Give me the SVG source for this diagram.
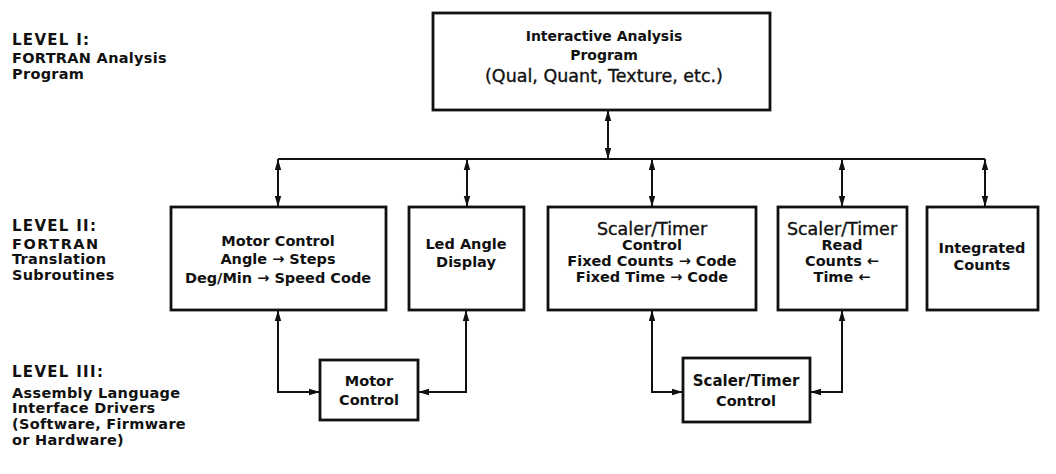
<svg xmlns="http://www.w3.org/2000/svg" width="1056" height="474" viewBox="0 0 1056 474">
<defs>
<marker id="ah" markerUnits="userSpaceOnUse" markerWidth="12" markerHeight="8" refX="11" refY="4" orient="auto-start-reverse">
<path d="M0,0.8 L11,4 L0,7.2 z" fill="#111"/>
</marker>
<style>
.bx{fill:#fff;stroke:#111;stroke-width:2.8}
.ln{fill:none;stroke:#111;stroke-width:2}
.ar{marker-start:url(#ah);marker-end:url(#ah)}
text{font-family:"DejaVu Sans","Liberation Sans",sans-serif;fill:#111}
.t{font-weight:bold;font-size:14.5px;text-anchor:middle}
.r{font-weight:normal;font-size:17.5px;text-anchor:middle;stroke:#111;stroke-width:0.35px}
.lv{font-weight:bold;font-size:15px;letter-spacing:1.3px}
.lb{font-weight:bold;font-size:14.5px;letter-spacing:0.3px}
</style>
</defs>
<rect width="1056" height="474" fill="#fff"/>

<g id="labels">
<text class="lv" x="12" y="45">LEVEL I:</text>
<text class="lb" x="12" y="63">FORTRAN Analysis</text>
<text class="lb" x="12" y="79">Program</text>
<text class="lv" x="12" y="231">LEVEL II:</text>
<text class="lb" x="12" y="249" style="letter-spacing:1.5px">FORTRAN</text>
<text class="lb" x="12" y="264">Translation</text>
<text class="lb" x="12" y="280">Subroutines</text>
<text class="lv" x="12" y="377">LEVEL III:</text>
<text class="lb" x="12" y="398">Assembly Language</text>
<text class="lb" x="12" y="413">Interface Drivers</text>
<text class="lb" x="12" y="429">(Software, Firmware</text>
<text class="lb" x="12" y="445">or Hardware)</text>
</g>

<g id="connectors">
<line class="ln ar" x1="608" y1="110" x2="608" y2="159"/>
<line class="ln" x1="278" y1="159" x2="985" y2="159"/>
<line class="ln ar" x1="278" y1="159" x2="278" y2="207"/>
<line class="ln ar" x1="467" y1="159" x2="467" y2="207"/>
<line class="ln ar" x1="652" y1="159" x2="652" y2="207"/>
<line class="ln ar" x1="842" y1="159" x2="842" y2="207"/>
<line class="ln ar" x1="985" y1="159" x2="985" y2="207"/>
<path class="ln ar" d="M278,310 V392 H320"/>
<path class="ln ar" d="M466,310 V392 H418"/>
<path class="ln ar" d="M652,310 V392 H683"/>
<path class="ln ar" d="M842,310 V392 H810"/>
</g>

<g id="n-interactive">
<rect class="bx" x="433" y="13" width="337" height="97"/>
<text class="t" x="604" y="41" style="font-size:14px">Interactive Analysis</text>
<text class="t" x="604" y="60" style="font-size:14px">Program</text>
<text class="r" x="604" y="82">(Qual, Quant, Texture, etc.)</text>
</g>

<g id="n-motor2">
<rect class="bx" x="171" y="207" width="215" height="103"/>
<text class="t" x="278" y="246">Motor Control</text>
<text class="t" x="278" y="264">Angle → Steps</text>
<text class="t" x="278" y="283">Deg/Min → Speed Code</text>
</g>

<g id="n-led">
<rect class="bx" x="409" y="207" width="115" height="103"/>
<text class="t" x="466" y="249">Led Angle</text>
<text class="t" x="466" y="267">Display</text>
</g>

<g id="n-stcontrol2">
<rect class="bx" x="548" y="207" width="208" height="103"/>
<text class="r" x="652" y="235">Scaler/Timer</text>
<text class="t" x="652" y="250">Control</text>
<text class="t" x="652" y="266">Fixed Counts → Code</text>
<text class="t" x="652" y="282">Fixed Time → Code</text>
</g>

<g id="n-stread">
<rect class="bx" x="778" y="207" width="129" height="103"/>
<text class="r" x="842" y="235">Scaler/Timer</text>
<text class="t" x="842" y="250">Read</text>
<text class="t" x="842" y="266">Counts ←</text>
<text class="t" x="842" y="282">Time ←</text>
</g>

<g id="n-integrated">
<rect class="bx" x="927" y="207" width="111" height="103"/>
<text class="t" x="982" y="253">Integrated</text>
<text class="t" x="982" y="270">Counts</text>
</g>

<g id="n-motor3">
<rect class="bx" x="320" y="360" width="98" height="60"/>
<text class="t" x="369" y="386">Motor</text>
<text class="t" x="369" y="405">Control</text>
</g>

<g id="n-stcontrol3">
<rect class="bx" x="683" y="358" width="127" height="64"/>
<text class="t" x="746" y="386" style="font-size:15px">Scaler/Timer</text>
<text class="t" x="746" y="406">Control</text>
</g>
</svg>
